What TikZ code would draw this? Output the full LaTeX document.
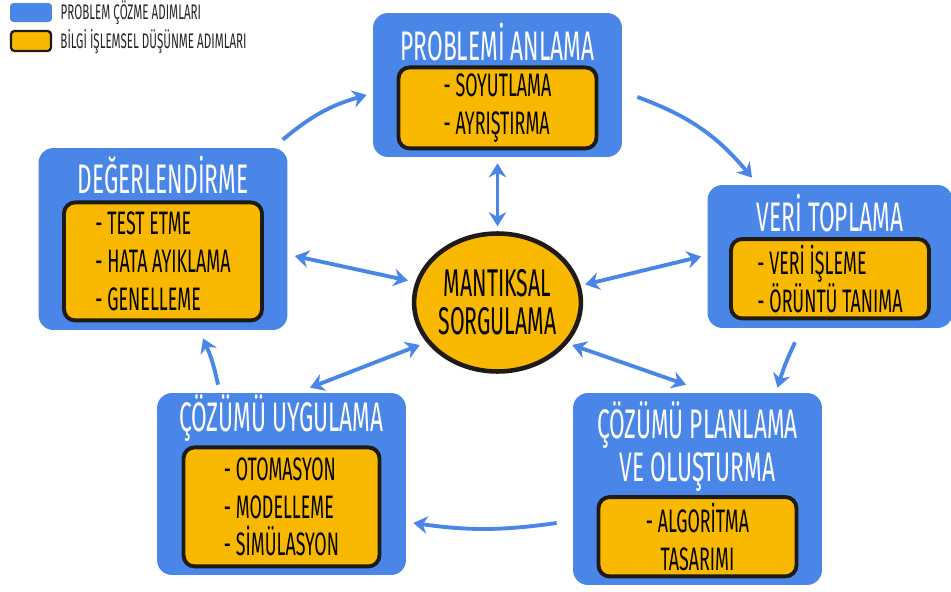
\documentclass[tikz,border=0pt]{standalone}
\usepackage{fontspec}
\setmainfont{Fira Sans}[FakeStretch=0.55]
\usepackage{tikz}
\usetikzlibrary{shapes.geometric, arrows.meta, positioning}

\definecolor{adimMavi}{HTML}{4A86E8}
\definecolor{bilgiSari}{HTML}{F9B800}
\definecolor{kenarSiyah}{HTML}{1E1A14}

\begin{document}
\begin{tikzpicture}[
    x=0.02cm, y=-0.02cm,
    adim/.style={rectangle, fill=adimMavi, rounded corners=0.3cm, minimum width=4.98cm},
    baslik/.style={text=white, font=\fontsize{23.5}{24.5}\selectfont, align=center, inner sep=0pt},
    bilgi/.style={rectangle, draw=kenarSiyah, line width=2.2pt, fill=bilgiSari, rounded corners=0.22cm, minimum width=3.96cm, font=\fontsize{18.5}{21.5}\selectfont, align=left},
    merkez/.style={ellipse, draw=kenarSiyah, line width=2.6pt, fill=bilgiSari, inner sep=0pt, minimum width=3.3cm, minimum height=2.76cm, font=\fontsize{22}{21.5}\selectfont, align=center},
    lejant/.style={rectangle, rounded corners=2pt, minimum width=0.84cm},
    lejantYazi/.style={font=\fontsize{12}{12}\selectfont, text=black!85, inner sep=0pt, anchor=west},
    ok/.style={-{Stealth[length=8pt,width=10pt]}, line width=2.2pt, draw=adimMavi},
    ciftok/.style={{Stealth[length=8pt,width=10pt]}-{Stealth[length=8pt,width=10pt]}, line width=2.2pt, draw=adimMavi}
]
    \useasboundingbox (0,0) rectangle (951,592);

    % Legend
    \node[lejant, fill=adimMavi, minimum height=0.38cm] (lejantMavi) at (31,12.5) {};
    \node[lejant, fill=bilgiSari, draw=kenarSiyah, line width=1.3pt, minimum width=0.8cm, minimum height=0.4cm] (lejantSari) at (31,41) {};
    \node[lejantYazi, right=0.16cm of lejantMavi] {PROBLEM ÇÖZME ADIMLARI};
    \node[lejantYazi, right=0.16cm of lejantSari] {BİLGİ İŞLEMSEL DÜŞÜNME ADIMLARI};

    % Steps
    \node[adim, minimum height=2.88cm] (anlama) at (497.5,85) {};
    \node[baslik] at ([yshift=-0.58cm]anlama.north) {PROBLEMİ ANLAMA};
    \node[bilgi, minimum height=1.62cm, above=0.14cm of anlama.south] (anlamaIc) {- SOYUTLAMA\\- AYRIŞTIRMA};

    \node[adim, minimum width=4.9cm, minimum height=2.86cm] (veri) at (830,256.5) {};
    \node[baslik] at ([yshift=-0.56cm]veri.north) {VERİ TOPLAMA};
    \node[bilgi, minimum height=1.56cm, above=0.16cm of veri.south] (veriIc) {- VERİ İŞLEME\\- ÖRÜNTÜ TANIMA};

    \node[adim, minimum height=3.84cm] (planlama) at (697.5,489) {};
    \node[baslik] at ([yshift=-1.07cm]planlama.north) {ÇÖZÜMÜ PLANLAMA\\VE OLUŞTURMA};
    \node[bilgi, align=center, minimum height=1.58cm, above=0.14cm of planlama.south] (planlamaIc) {- ALGORİTMA\\TASARIMI};

    \node[adim, minimum height=3.64cm] (uygulama) at (281.5,484) {};
    \node[baslik] at ([yshift=-0.5cm]uygulama.north) {ÇÖZÜMÜ UYGULAMA};
    \node[bilgi, minimum width=3.92cm, minimum height=2.38cm, above=0.14cm of uygulama.south] (uygulamaIc) {- OTOMASYON\\- MODELLEME\\- SİMÜLASYON};

    \node[adim, minimum height=3.64cm] (deger) at (163,239) {};
    \node[baslik] at ([yshift=-0.54cm]deger.north) {DEĞERLENDİRME};
    \node[bilgi, minimum height=2.36cm, above=0.16cm of deger.south] (degerIc) {- TEST ETME\\- HATA AYIKLAMA\\- GENELLEME};

    \node[merkez] (mantik) at (497.5,302.5) {MANTIKSAL\\SORGULAMA};

    % Cycle
    \draw[ok] ([xshift=-0.1cm,yshift=0.16cm]deger.north east) to[bend left=12] ([xshift=-0.12cm,yshift=-0.2cm]anlama.west);
    \draw[ok] ([xshift=0.3cm,yshift=-0.24cm]anlama.east) to[bend left=15] ([xshift=-1.56cm,yshift=0.14cm]veri.north);
    \draw[ok] ([xshift=-0.7cm,yshift=-0.28cm]veri.south) to[bend right=4] ([xshift=1.6cm,yshift=0.1cm]planlama.north);
    \draw[ok] ([xshift=-0.32cm,yshift=-0.68cm]planlama.west) to[bend left=8] ([xshift=0.14cm,yshift=-0.78cm]uygulama.east);
    \draw[ok] ([xshift=-1.27cm,yshift=0.16cm]uygulama.north) to[bend right=6] ([xshift=0.8cm,yshift=-0.16cm]deger.south);

    % Links to the centre
    \draw[ciftok] ([yshift=-0.12cm]anlama.south) -- ([yshift=0.1cm]mantik.north);
    \draw[ciftok] ([xshift=0.14cm,yshift=-0.34cm]deger.east) -- ([xshift=-0.08cm,yshift=0.44cm]mantik.west);
    \draw[ciftok] ([xshift=0.04cm,yshift=0.36cm]mantik.east) -- ([xshift=-0.12cm]veri.west);
    \draw[ciftok] ([xshift=0.16cm,yshift=-0.85cm]mantik.west) -- ([xshift=0.57cm,yshift=0.1cm]uygulama.north);
    \draw[ciftok] ([xshift=-0.22cm,yshift=-0.85cm]mantik.east) -- ([xshift=-0.23cm,yshift=0.16cm]planlama.north);
\end{tikzpicture}
\end{document}
